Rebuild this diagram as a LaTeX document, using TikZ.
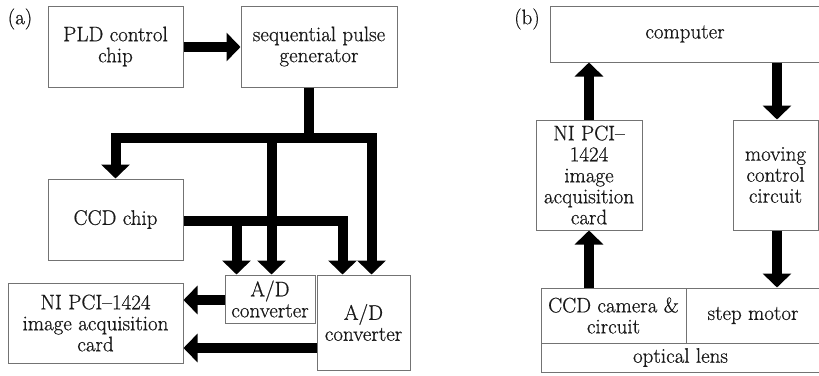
\documentclass[tikz,border=0pt]{standalone}
\usepackage{fontspec}
\usetikzlibrary{arrows.meta,calc}
\newfontfamily\labelfont{Latin Modern Roman}[FakeBold=0.6,Ligatures=TeX]
\begin{document}
\begin{tikzpicture}[x=1pt,y=-1pt,
  box/.style={draw=black!55, line width=1pt, inner sep=0pt, align=center,
              font=\labelfont\fontsize{21}{21}\selectfont, text=black!90},
  flow/.style={line width=10pt, line join=miter, black,
               -{Triangle[width=28pt,length=14pt]}},
  bar/.style={line width=10pt, line join=miter, black},
  tag/.style={font=\labelfont\fontsize{21}{21}\selectfont, text=black!90}]
\useasboundingbox (0,0) rectangle (819,375);

% ---------- panel (a) ----------
\node[tag] (ta) at (20,19) {(a)};
\node[box, minimum width=135pt, minimum height=81pt] (pld) at (115.5,46.5) {PLD control\\chip};
\node[box, minimum width=156pt, minimum height=81pt] (seq) at (319,46.5) {sequential pulse\\generator};
\node[box, minimum width=135pt, minimum height=81pt] (ccd) at (115.5,219.5) {CCD chip};
\node[box, minimum width=175pt, minimum height=80pt] (nia) at (95.5,323) {NI PCI–1424\\image acquisition\\card};
\node[box, minimum width=90pt, minimum height=48pt] (ads) at (270,299) {A/D\\converter};
\node[box, minimum width=93pt, minimum height=95pt] (adb) at (363.5,322.5) {A/D\\converter};

% junction points of the clock distribution tree
\coordinate (hub) at (308.5,138);
\coordinate (tapA) at (271.5,138);
\coordinate (sigA) at (236.5,220.5);
\coordinate (sigB) at (342.5,220.5);

\draw[flow] (pld.east |- 0,47) -- (seq.west |- 0,47);
\draw[bar] (seq.south -| hub) -- (hub);
\draw[flow, {Triangle[width=28pt,length=14pt]}-{Triangle[width=28pt,length=14pt]}]
  (adb.north -| 371.5,0) |- (ccd.north |- hub) -- (ccd.north);
\draw[flow] (tapA) -- (ads.north -| tapA);
\draw[flow] (ccd.east |- sigA) -| (adb.north -| sigB);
\draw[flow] (sigA) -- (ads.north -| sigA);
\draw[flow] (ads.west |- 0,300) -- (nia.east |- 0,300);
\draw[flow] (adb.west |- 0,348) -- (nia.east |- 0,348);

% ---------- panel (b) ----------
\node[tag] (tb) at (527,19) {(b)};
\node[box, minimum width=270pt, minimum height=56pt] (comp) at (685,34) {computer};
\node[box, minimum width=106pt, minimum height=110pt] (nib) at (589,175) {NI PCI–\\1424\\image\\acquisition\\card};
\node[box, minimum width=85pt, minimum height=110pt] (mov) at (775.5,175) {moving\\control\\circuit};
\node[box, minimum width=145pt, minimum height=55pt] (cam) at (613.5,315.5) {CCD camera \&\\circuit};
\node[box, minimum width=134pt, minimum height=55pt] (stp) at (753,315.5) {step motor};
\node[box, minimum width=279pt, minimum height=29pt] (lens) at (680.5,357.5) {optical lens};

\draw[flow] (nib.north) -- (nib.north |- comp.south);
\draw[flow] (comp.south -| 777,0) -- (mov.north -| 777,0);
\draw[flow] (cam.north -| nib.south) -- (nib.south);
\draw[flow] (mov.south -| 777,0) -- (stp.north -| 777,0);
\end{tikzpicture}
\end{document}
